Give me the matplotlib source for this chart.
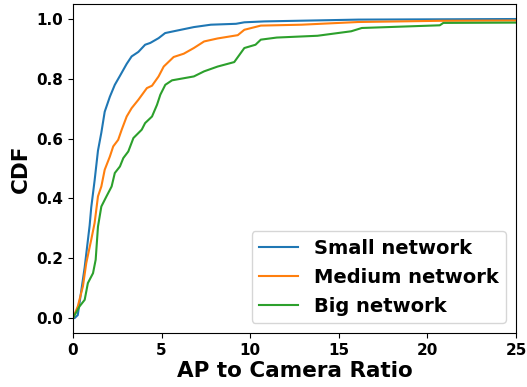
import matplotlib
matplotlib.use("Agg")
import matplotlib.pyplot as plt

# CDF curves (ratio, cumulative fraction)
small_x = [0.0, 0.09, 0.27, 0.66, 0.94, 1.03, 1.22, 1.41, 1.6, 1.79, 2.08, 2.36, 2.65,
           3.03, 3.31, 3.69, 4.07, 4.36, 4.83, 5.2, 5.68, 6.82, 7.78, 9.2, 9.67, 10.8,
           16.1, 25.0]
small_y = [0.0, 0.0, 0.01, 0.17, 0.31, 0.37, 0.46, 0.56, 0.62, 0.69, 0.74, 0.78, 0.81,
           0.85, 0.875, 0.89, 0.914, 0.92, 0.936, 0.953, 0.959, 0.973, 0.981, 0.984, 0.989,
           0.992, 0.998, 1.0]

medium_x = [0.0, 0.27, 0.56, 0.75, 1.03, 1.22, 1.41, 1.6, 1.79, 2.08, 2.27, 2.55, 2.75,
            3.03, 3.31, 3.69, 4.17, 4.46, 4.83, 5.12, 5.68, 6.25, 6.82, 7.4, 8.16, 9.3,
            9.67, 10.6, 12.9, 16.1, 20.7, 25.0]
medium_y = [0.0, 0.039, 0.106, 0.184, 0.262, 0.318, 0.407, 0.44, 0.496, 0.54, 0.574,
            0.596, 0.63, 0.674, 0.702, 0.73, 0.769, 0.777, 0.808, 0.841, 0.873, 0.884,
            0.903, 0.925, 0.935, 0.946, 0.964, 0.978, 0.981, 0.99, 0.994, 0.995]

big_x = [0.0, 0.37, 0.66, 0.84, 1.13, 1.28, 1.41, 1.6, 1.89, 2.18, 2.36, 2.65, 2.84,
         3.12, 3.41, 3.88, 4.07, 4.46, 4.74, 4.93, 5.21, 5.59, 6.82, 7.4, 8.16, 9.1,
         9.67, 10.3, 10.6, 11.5, 13.8, 15.7, 16.3, 20.7, 20.9, 25.0]
big_y = [0.0, 0.039, 0.061, 0.117, 0.15, 0.195, 0.306, 0.373, 0.407, 0.44, 0.485, 0.507,
         0.535, 0.557, 0.602, 0.63, 0.652, 0.674, 0.713, 0.747, 0.78, 0.795, 0.808, 0.825,
         0.841, 0.856, 0.903, 0.914, 0.931, 0.938, 0.944, 0.959, 0.97, 0.979, 0.987, 0.988]

labels = ["Small network", "Medium network", "Big network"]

fig = plt.figure(figsize=(5.27, 3.87), dpi=100)
ax = fig.add_axes([0.1385, 0.1395, 0.8406, 0.850])

ax.plot(small_x, small_y, color="tab:blue", lw=1.5, label=labels[0])
ax.plot(medium_x, medium_y, color="tab:orange", lw=1.5, label=labels[1])
ax.plot(big_x, big_y, color="tab:green", lw=1.5, label=labels[2])

ax.set_xlim(0, 25)
ax.set_ylim(-0.05, 1.05)
ax.set_xticks([0, 5, 10, 15, 20, 25])
ax.set_yticks([0.0, 0.2, 0.4, 0.6, 0.8, 1.0])
for lab in ax.get_xticklabels() + ax.get_yticklabels():
    lab.set_fontweight("bold")
    lab.set_fontsize(11)

ax.set_xlabel("AP to Camera Ratio", fontsize=15.5, fontweight="bold", labelpad=2)
ax.set_ylabel("CDF", fontsize=15.5, fontweight="bold")
ax.legend(loc="lower right", prop={"weight": "bold", "size": 14})

fig.savefig("out.png", dpi=100)
